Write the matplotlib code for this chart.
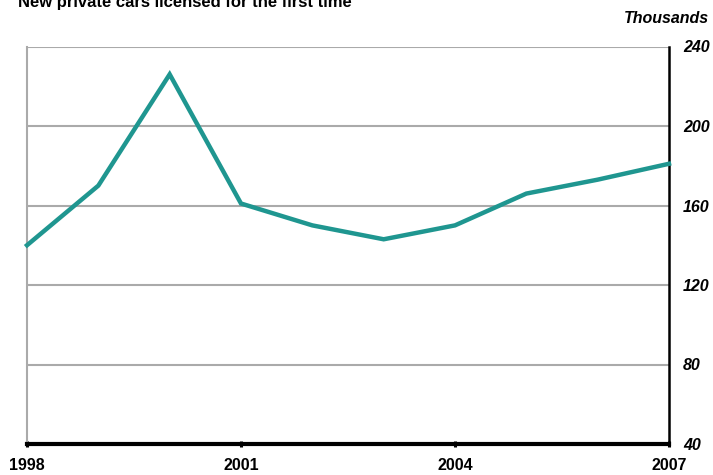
import matplotlib
matplotlib.use("Agg")
import matplotlib.pyplot as plt

years = [1998, 1999, 2000, 2001, 2002, 2003, 2004, 2005, 2006, 2007]
cars = [140, 170, 226, 161, 150, 143, 150, 166, 173, 181]
yticks = [40, 80, 120, 160, 200, 240]
xticks = [1998, 2001, 2004, 2007]

plt.rcParams['font.family'] = ['Liberation Sans', 'DejaVu Sans']

fig = plt.figure(figsize=(7.13, 4.75), dpi=100)
ax = fig.add_axes([27/713, 1-444/475, 642/713, (444-46.5)/475])

ax.plot(years, cars, color='#1f9690', lw=3.2, solid_joinstyle='miter', zorder=3, clip_on=False)
ax.set_xlim(1998, 2007)
ax.set_ylim(40, 240)
ax.set_yticks(yticks)
ax.set_xticks(xticks)
ax.yaxis.tick_right()
ax.grid(axis='y', color='#aaaaaa', lw=1.5)
ax.set_axisbelow(True)
ax.spines['top'].set_visible(False)
ax.spines['left'].set_color('#aaaaaa')
ax.spines['left'].set_linewidth(1.5)
ax.spines['right'].set_color('black')
ax.spines['right'].set_linewidth(1.8)
ax.spines['bottom'].set_color('black')
ax.spines['bottom'].set_linewidth(3)
ax.spines['bottom'].set_zorder(4)
ax.tick_params(axis='y', length=0, pad=10, labelsize=11.5)
ax.tick_params(axis='x', length=5, width=2.2, direction='inout', pad=7.5, labelsize=11.5)
for lbl in ax.get_yticklabels():
    lbl.set_fontweight('bold')
    lbl.set_fontstyle('italic')
for lbl in ax.get_xticklabels():
    lbl.set_fontweight('bold')

fig.text(18/713, 1-7/475, 'New private cars licensed for the first time',
         fontsize=12, fontweight='bold', ha='left', va='baseline')
fig.text(709/713, 1-23/475, 'Thousands', fontsize=11.5, fontweight='bold',
         fontstyle='italic', ha='right', va='baseline')

fig.savefig('out.png', dpi=100)
